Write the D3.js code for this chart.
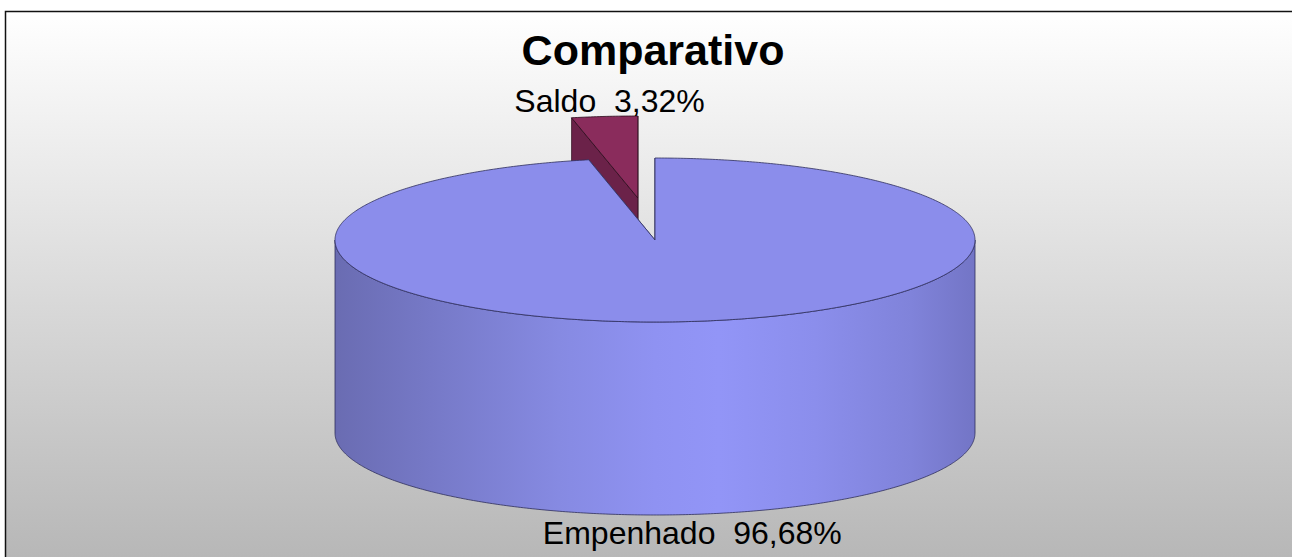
<!DOCTYPE html>
<html lang="pt">
  <head>
    <meta charset="UTF-8" />
    <title>Comparativo</title>
    <style>
      html, body { margin: 0; background: #fff; overflow: hidden; }
      svg { display: block; }
      text { font-family: "Liberation Sans", Arial, sans-serif; white-space: pre; }
    </style>
  </head>
  <body>
    <div class="container"></div>
    <script src="https://cdn.jsdelivr.net/npm/d3@7"></script>
    <script>
      // data
      const categories = ["Empenhado", "Saldo"];
      const values = [96.68, 3.32];
      const valueLabels = ["96,68%", "3,32%"];
      const explode = [0, 0.515];
      const colors = ["#8b8deb", "#8a2c5c"];
      const sideColors = ["#7a7dd0", "#6b2249"];

      const W = 1292, H = 557;
      const svg = d3.select(".container").append("svg")
        .attr("width", W).attr("height", H);

      // fondo con degradado
      const defs = svg.append("defs");
      const bg = defs.append("linearGradient").attr("id", "bg")
        .attr("x1", 0).attr("y1", 0).attr("x2", 0).attr("y2", 1);
      bg.append("stop").attr("offset", "0%").attr("stop-color", "#ffffff");
      bg.append("stop").attr("offset", "100%").attr("stop-color", "#b3b3b3");

      svg.append("rect")
        .attr("x", 5.5).attr("y", 11.5)
        .attr("width", W + 20).attr("height", H + 20)
        .attr("fill", "url(#bg)")
        .attr("stroke", "#111").attr("stroke-width", 1.5);

      // geometría del pie 3D
      const cx = 655, cy = 240, rx = 320, ry = 82, depth = 193;

      const side = defs.append("linearGradient").attr("id", "side0")
        .attr("gradientUnits", "userSpaceOnUse")
        .attr("x1", cx - rx).attr("x2", cx + rx).attr("y1", 0).attr("y2", 0);
      [[0, "#6a6cb2"], [0.15, "#7679c7"], [0.35, "#868ae2"], [0.5, "#8f92f2"],
       [0.6, "#9295f7"], [0.75, "#8b8eec"], [0.9, "#8083da"], [1, "#7375c6"]]
        .forEach(([o, c]) => side.append("stop").attr("offset", o).attr("stop-color", c));

      const pie = d3.pie().sort(null).startAngle(0).endAngle(2 * Math.PI);
      const arcs = pie(values).map((d, i) => {
        const mid = (d.startAngle + d.endAngle) / 2;
        const e = explode[i];
        d.ox = e * rx * Math.sin(mid);
        d.oy = -e * ry * Math.cos(mid);
        d.i = i;
        return d;
      });

      const pt = (d, a, dy = 0) => [
        cx + d.ox + rx * Math.sin(a),
        cy + d.oy - ry * Math.cos(a) + dy,
      ];
      const center = (d, dy = 0) => [cx + d.ox, cy + d.oy + dy];
      const sample = (a0, a1) => {
        const n = Math.max(2, Math.ceil(Math.abs(a1 - a0) / 0.01));
        return d3.range(n + 1).map((k) => a0 + ((a1 - a0) * k) / n);
      };
      const line = d3.line();

      const topPath = (d) =>
        line([center(d), ...sample(d.startAngle, d.endAngle).map((a) => pt(d, a))]) + "Z";
      const radialPath = (d, a) =>
        line([center(d), pt(d, a), pt(d, a, depth), center(d, depth)]) + "Z";
      const outerPath = (d) => {
        const a0 = Math.max(d.startAngle, Math.PI / 2);
        const a1 = Math.min(d.endAngle, (3 * Math.PI) / 2);
        if (a1 <= a0) return null;
        const s = sample(a0, a1);
        return line([...s.map((a) => pt(d, a)), ...s.reverse().map((a) => pt(d, a, depth))]) + "Z";
      };

      const g = svg.append("g");
      // de atrás hacia adelante: primero el sector separado
      const order = [1, 0];
      order.forEach((i) => {
        const d = arcs[i];
        const sg = g.append("g");
        const stroke = i === 0 ? "#2e2f5c" : "#2a0a1a";
        [d.endAngle, d.startAngle].forEach((a) => {
          sg.append("path").attr("d", radialPath(d, a))
            .attr("fill", sideColors[i]).attr("stroke", stroke)
            .attr("stroke-width", 0.7).attr("stroke-linejoin", "round");
        });
        const op = outerPath(d);
        if (op) {
          sg.append("path").attr("d", op)
            .attr("fill", i === 0 ? "url(#side0)" : sideColors[i])
            .attr("stroke", stroke).attr("stroke-width", 0.8);
        }
        sg.append("path").attr("d", topPath(d))
          .attr("fill", colors[i]).attr("stroke", stroke)
          .attr("stroke-width", 0.8).attr("stroke-linejoin", "round");
      });

      // título
      svg.append("text")
        .attr("x", 653).attr("y", 65)
        .attr("text-anchor", "middle")
        .attr("font-size", 43).attr("font-weight", "bold")
        .attr("fill", "#000")
        .text("Comparativo");

      // etiquetas
      arcs.forEach((d) => {
        const mid = (d.startAngle + d.endAngle) / 2;
        const top = Math.cos(mid) > 0;
        const p = pt(d, mid, top ? 0 : depth);
        svg.append("text")
          .attr("x", p[0] + (top ? 5 : 4))
          .attr("y", top ? p[1] - 4 : p[1] + 29)
          .attr("text-anchor", "middle")
          .attr("font-size", 32)
          .attr("fill", "#000")
          .text(categories[d.i] + "  " + valueLabels[d.i]);
      });
    </script>
  </body>
</html>
